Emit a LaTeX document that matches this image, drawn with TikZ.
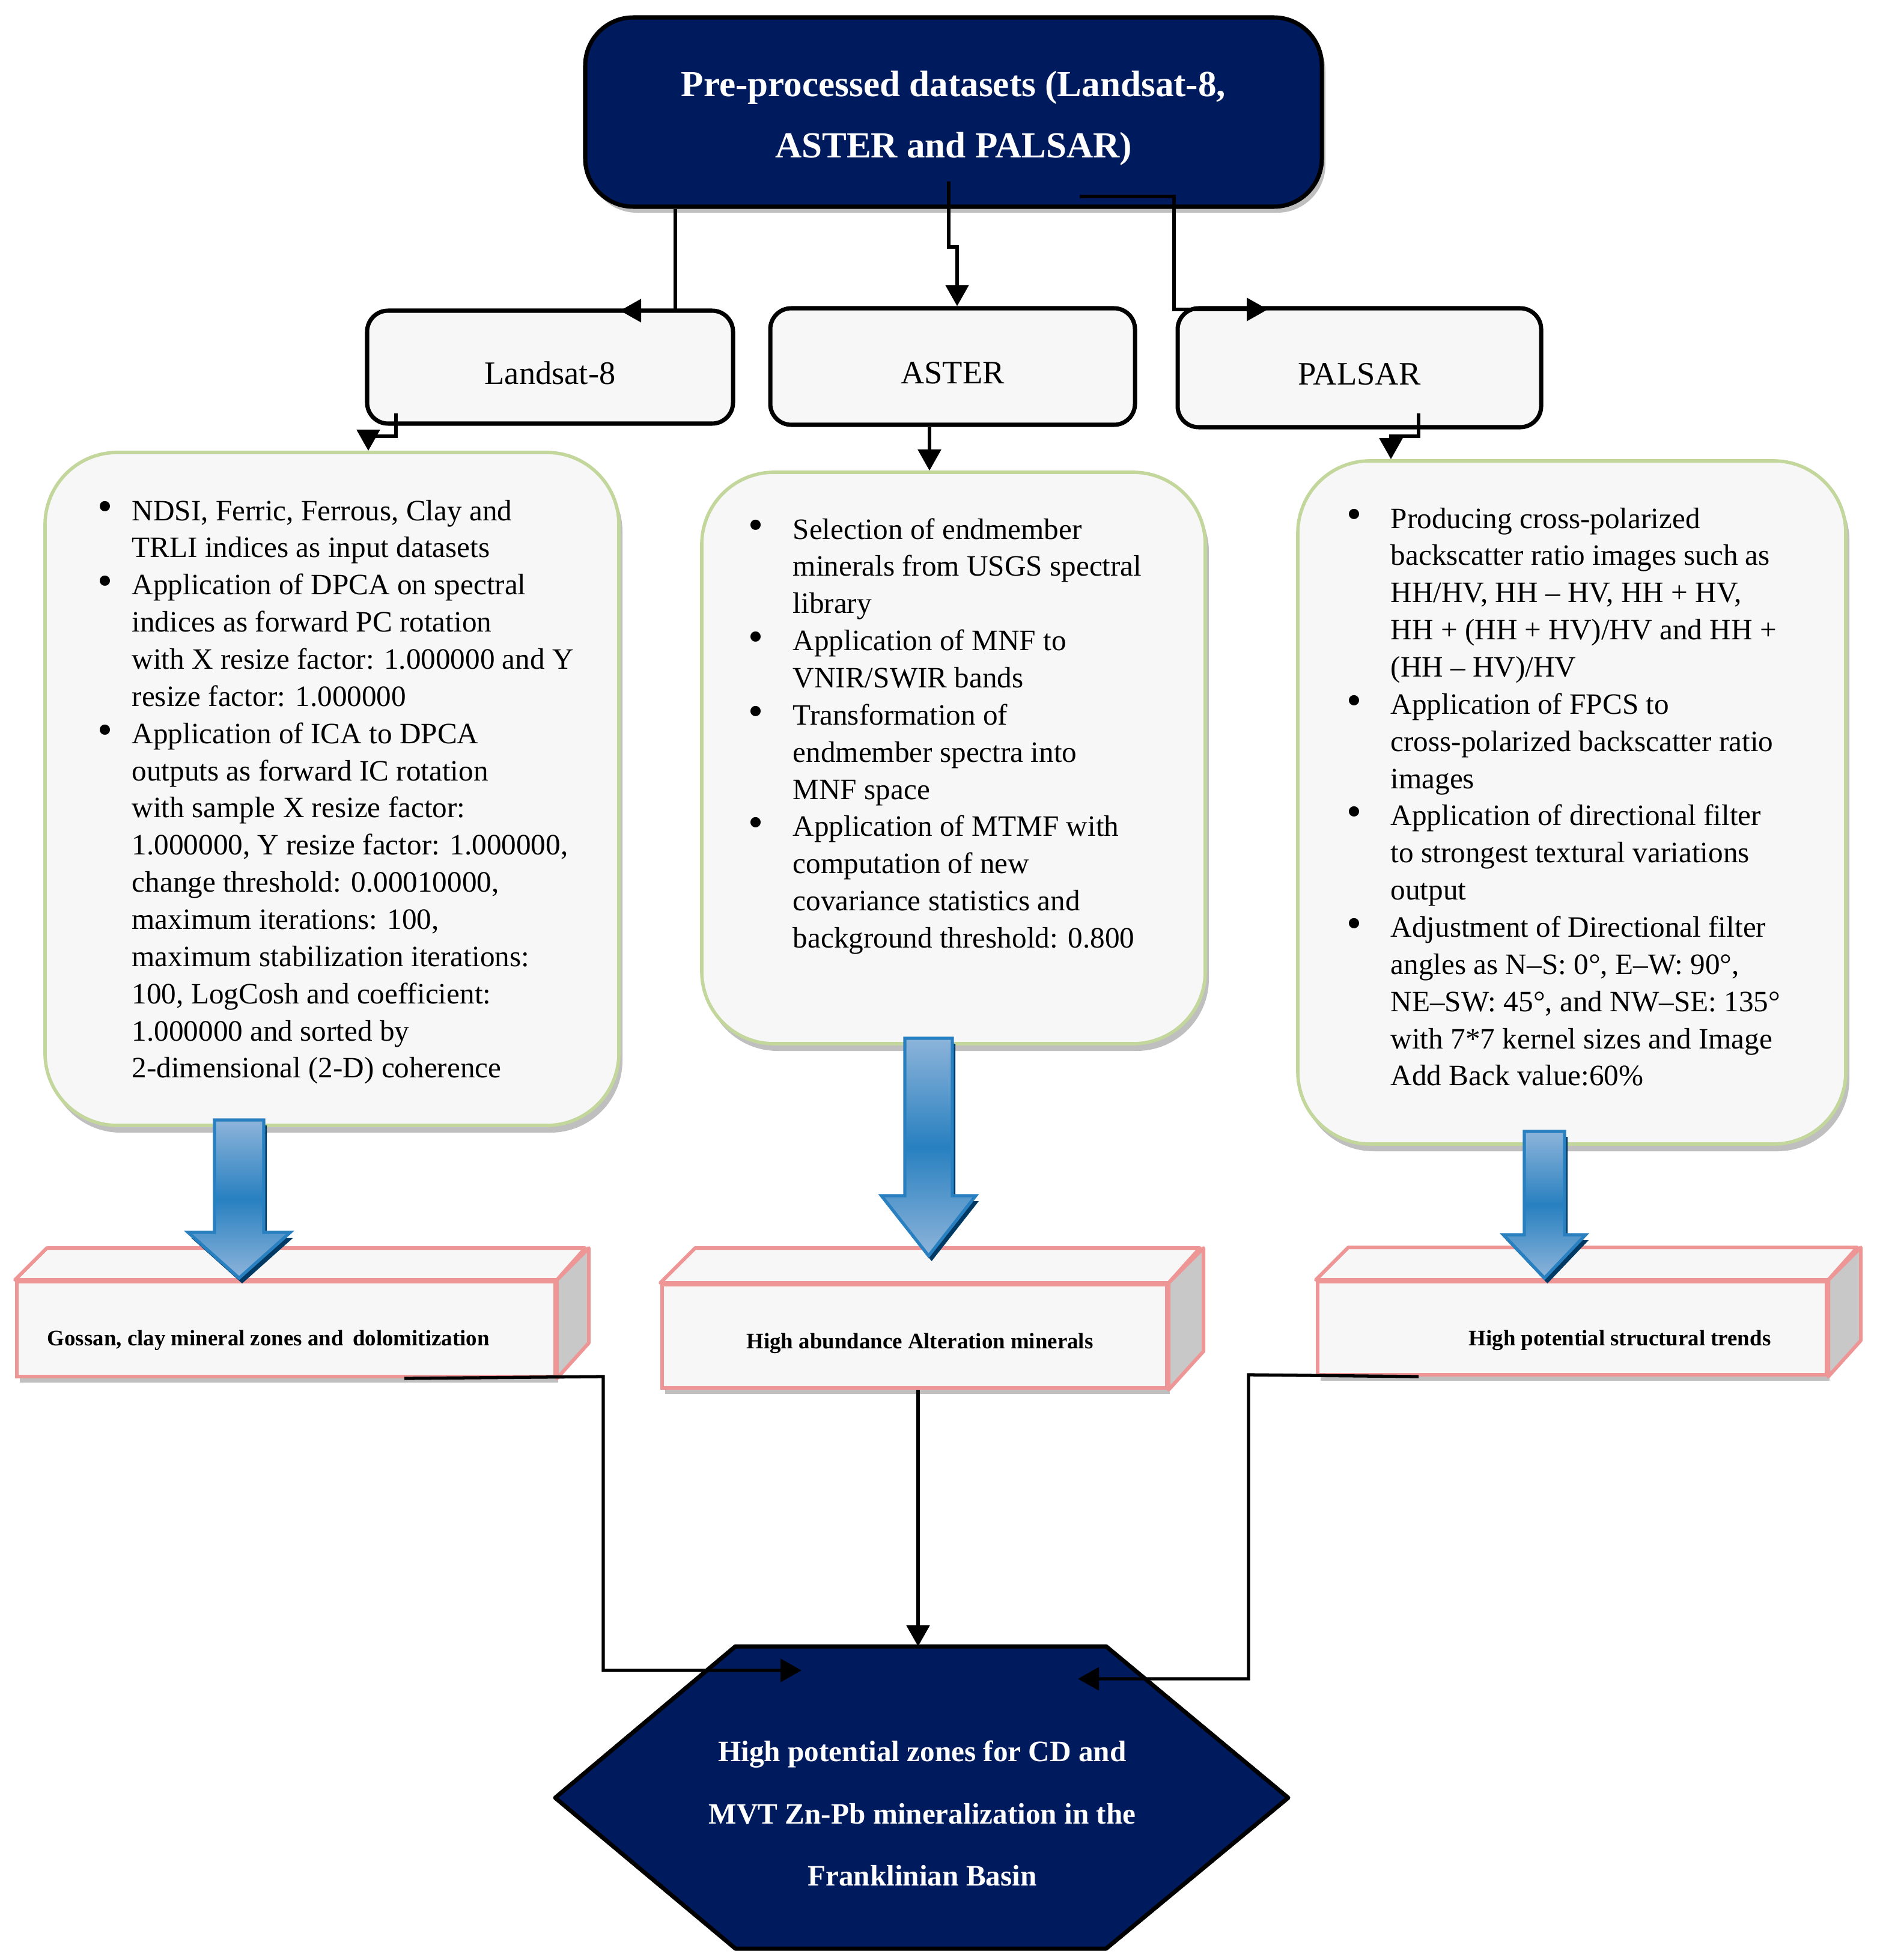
\documentclass[tikz,border=0pt]{standalone}
\usepackage{fontspec}
\setmainfont{Liberation Serif}
\usetikzlibrary{arrows.meta,shadows}

\definecolor{navy}{RGB}{0,26,94}
\definecolor{boxfill}{RGB}{247,247,247}
\definecolor{greenedge}{RGB}{195,214,155}
\definecolor{pinkedge}{RGB}{238,150,150}
\definecolor{facegray}{RGB}{200,200,200}
\definecolor{arrowblue}{RGB}{40,128,192}
\definecolor{arrowlight}{RGB}{141,180,218}
\definecolor{arrowdark}{RGB}{0,58,100}

\tikzset{
  headbox/.style={draw=black, line width=2pt, fill=navy, rounded corners=0.8cm,
    drop shadow={shadow xshift=0.06cm, shadow yshift=-0.1cm, fill=gray!50, opacity=1}},
  headlabel/.style={text=white, align=center, font=\bfseries\fontsize{17.4}{29}\selectfont},
  sensor/.style={draw=black, line width=2pt, fill=boxfill, rounded corners=0.35cm,
    text height=0.57cm, text depth=0cm, font=\fontsize{15.5}{18}\selectfont},
  procbox/.style={draw=greenedge, line width=1.6pt, fill=boxfill, rounded corners=1.2cm,
    drop shadow={shadow xshift=0.06cm, shadow yshift=-0.12cm, fill=gray!50, opacity=1}},
  bullettext/.style={anchor=base west, inner sep=0pt, font=\fontsize{14}{17.6}\selectfont},
  resbox/.style={draw=pinkedge, line width=1.7pt, fill=boxfill, inner sep=0pt,
    drop shadow={shadow xshift=0.05cm, shadow yshift=-0.1cm, fill=gray!50, opacity=1}},
  resface/.style={draw=pinkedge, line width=1.7pt, line join=round},
  reslabel/.style={inner sep=0pt, font=\bfseries\fontsize{10.5}{12}\selectfont},
  hexbox/.style={draw=black, line width=2pt, fill=navy, line join=round},
  hexlabel/.style={text=white, align=center, font=\bfseries\fontsize{14}{29.5}\selectfont},
  conn/.style={line width=1.5pt, -{Triangle[length=0.35cm,width=0.38cm]}},
  blockarrow/.style={draw=arrowblue, line width=1.5pt, top color=arrowlight,
    bottom color=arrowlight, middle color=arrowblue,
    drop shadow={shadow xshift=0.05cm, shadow yshift=-0.09cm, fill=arrowdark, opacity=1}},
}

% bigger round bullet
\newcommand{\bul}{\raisebox{-0.02em}{\scalebox{1.45}{\textbullet}}}

% #1 centre x, #2 half shaft, #3 half head, #4 top y, #5 head base y, #6 tip y
\newcommand{\blockarrow}[6]{%
  \draw[blockarrow] ({#1-#2},#4) -- ({#1+#2},#4) -- ({#1+#2},#5) -- ({#1+#3},#5)
    -- (#1,#6) -- ({#1-#3},#5) -- ({#1-#2},#5) -- cycle;}

% #1 name, #2 x, #3 y, #4 width, #5 height, #6 depth
\newcommand{\cuboid}[6]{%
  \node[resbox, minimum width=#4cm, minimum height=#5cm] (#1) at (#2,#3) {};
  \draw[resface, fill=facegray] (#1.north east) -- ++(#6,#6) -- ++(0,-#5) -- (#1.south east) -- cycle;
  \draw[resface, fill=boxfill] (#1.north west) -- ++(#6,#6) -- ++(#4,0) -- (#1.north east) -- cycle;}

\begin{document}
\begin{tikzpicture}
  \useasboundingbox (0,0) rectangle (31.28,-32.62);

  % input data
  \node[headbox, minimum width=12.26cm, minimum height=3.15cm] (top) at (15.87,-1.865) {};
  \node[headlabel] (toplabel) at (15.87,-1.97) {Pre-processed datasets (Landsat-8,\\ASTER and PALSAR)};

  \node[sensor, minimum width=6.09cm, minimum height=1.88cm] (landsat) at (9.155,-6.11) {Landsat-8};
  \node[sensor, minimum width=6.07cm, minimum height=1.94cm] (aster) at (15.855,-6.10) {ASTER};
  \node[sensor, minimum width=6.05cm, minimum height=1.98cm] (palsar) at (22.625,-6.12) {PALSAR};

  \coordinate (a1) at (11.24,-5.17);
  \coordinate (a2) at (10.32,-5.17);
  \draw[conn] (top.south -| a1) -- (a1) -- (a2);

  \coordinate (b0) at (15.79,-3.02);
  \coordinate (b1) at (15.79,-4.11);
  \coordinate (b2) at (15.93,-4.11);
  \draw[conn] (b0) -- (b1) -- (b2) -- (aster.north -| b2);

  \coordinate (c0) at (17.97,-3.27);
  \coordinate (c1) at (19.54,-3.27);
  \coordinate (c2) at (19.54,-5.15);
  \coordinate (c3) at (21.10,-5.15);
  \draw[conn] (c0) -- (c1) -- (c2) -- (c3);

  % processing steps
  \node[procbox, minimum width=9.55cm, minimum height=11.20cm] (lproc) at (5.525,-13.13) {};
  \node[procbox, minimum width=8.38cm, minimum height=9.51cm] (mproc) at (15.87,-12.615) {};
  \node[procbox, minimum width=9.12cm, minimum height=11.37cm] (rproc) at (26.16,-13.355) {};

  \coordinate (d0) at (6.59,-6.88);
  \coordinate (d1) at (6.59,-7.26);
  \coordinate (d2) at (6.13,-7.26);
  \draw[conn] (d0) -- (d1) -- (d2) -- (lproc.north -| d2);

  \coordinate (e0) at (15.47,-7.0);
  \draw[conn] (aster.south -| e0) -- (mproc.north -| e0);

  \coordinate (f0) at (23.61,-6.88);
  \coordinate (f1) at (23.61,-7.26);
  \coordinate (f2) at (23.15,-7.26);
  \draw[conn] (f0) -- (f1) -- (f2) -- (rproc.north -| f2);

  \node[bullettext] (ltext) at (1.62,-8.66) {\begin{tabular}[t]{@{}p{0.57cm}@{}l@{}}
    \bul & NDSI, Ferric, Ferrous, Clay and\\
    & TRLI indices as input datasets\\
    \bul & Application of DPCA on spectral\\
    & indices as forward PC rotation\\
    & with X resize factor: 1.000000 and Y\\
    & resize factor: 1.000000\\
    \bul & Application of ICA to DPCA\\
    & outputs as forward IC rotation\\
    & with sample X resize factor:\\
    & 1.000000, Y resize factor: 1.000000,\\
    & change threshold: 0.00010000,\\
    & maximum iterations: 100,\\
    & maximum stabilization iterations:\\
    & 100, LogCosh and coefficient:\\
    & 1.000000 and sorted by\\
    & 2-dimensional (2-D) coherence
  \end{tabular}};

  \node[bullettext] (mtext) at (12.45,-8.97) {\begin{tabular}[t]{@{}p{0.74cm}@{}l@{}}
    \bul & Selection of endmember\\
    & minerals from USGS spectral\\
    & library\\
    \bul & Application of MNF to\\
    & VNIR/SWIR bands\\
    \bul & Transformation of\\
    & endmember spectra into\\
    & MNF space\\
    \bul & Application of MTMF with\\
    & computation of new\\
    & covariance statistics and\\
    & background threshold: 0.800
  \end{tabular}};

  \node[bullettext] (rtext) at (22.41,-8.79) {\begin{tabular}[t]{@{}p{0.73cm}@{}l@{}}
    \bul & Producing cross-polarized\\
    & backscatter ratio images such as\\
    & HH/HV, HH – HV, HH + HV,\\
    & HH + (HH + HV)/HV and HH +\\
    & (HH – HV)/HV\\
    \bul & Application of FPCS to\\
    & cross-polarized backscatter ratio\\
    & images\\
    \bul & Application of directional filter\\
    & to strongest textural variations\\
    & output\\
    \bul & Adjustment of Directional filter\\
    & angles as N–S: 0°, E–W: 90°,\\
    & NE–SW: 45°, and NW–SE: 135°\\
    & with 7*7 kernel sizes and Image\\
    & Add Back value:60\%
  \end{tabular}};

  % results
  \cuboid{lres}{4.76}{-22.12}{8.96}{1.58}{0.53}
  \cuboid{mres}{15.22}{-22.24}{8.40}{1.72}{0.58}
  \cuboid{rres}{26.165}{-22.105}{8.47}{1.55}{0.54}

  \node[reslabel, anchor=west] (lreslabel) at (0.78,-22.31) {Gossan, clay mineral zones and\ \,dolomitization};
  \node[reslabel] (mreslabel) at (15.31,-22.36) {High abundance Alteration minerals};
  \node[reslabel] (rreslabel) at (26.96,-22.31) {High potential structural trends};

  \blockarrow{3.98}{0.41}{0.85}{-18.64}{-20.51}{-21.27}
  \blockarrow{15.455}{0.395}{0.785}{-17.28}{-19.90}{-20.90}
  \blockarrow{25.705}{0.335}{0.685}{-18.83}{-20.55}{-21.27}

  % target
  \draw[hexbox] (12.24,-27.40) -- (18.41,-27.40) -- (21.44,-29.92) -- (18.41,-32.43)
    -- (12.24,-32.43) -- (9.24,-29.92) -- cycle;
  \node[hexlabel] (target) at (15.35,-30.18)
    {High potential zones for CD and\\MVT Zn-Pb mineralization in the\\Franklinian Basin};
  \coordinate (hexN) at (15.28,-27.40);

  \coordinate (g0) at (6.73,-22.91);
  \coordinate (g1) at (10.04,-22.91);
  \coordinate (g2) at (10.04,-27.80);
  \coordinate (g3) at (13.34,-27.80);
  \draw[conn] (lres.south -| g0) -- (g1) -- (g2) -- (g3);

  \draw[conn] (mres.south -| hexN) -- (hexN);

  \coordinate (i0) at (23.61,-22.88);
  \coordinate (i1) at (20.78,-22.88);
  \coordinate (i2) at (20.78,-27.94);
  \coordinate (i3) at (17.94,-27.94);
  \draw[conn] (rres.south -| i0) -- (i1) -- (i2) -- (i3);
\end{tikzpicture}
\end{document}
